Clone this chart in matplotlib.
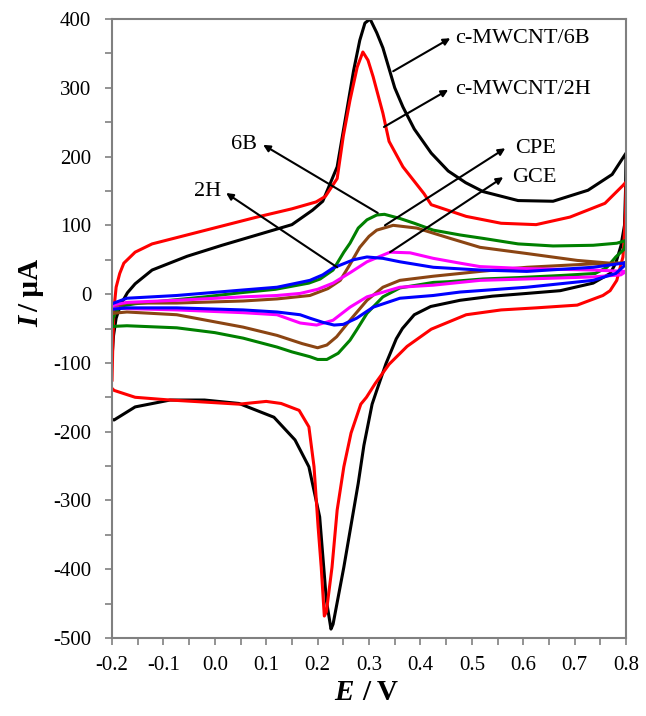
import matplotlib
matplotlib.use("Agg")
import matplotlib.pyplot as plt
from matplotlib.ticker import MultipleLocator, FormatStrFormatter

plt.rcParams['font.family'] = ['Liberation Serif', 'DejaVu Serif']
plt.rcParams['axes.unicode_minus'] = False

# ---- CV curves: one closed loop each (forward scan, then reverse scan) ----
# c-MWCNT/6B (black)
cnt6b_E = [-0.200, -0.197, -0.192, -0.183, -0.170, -0.155, -0.122, -0.054, 0.014, 0.082,
           0.150, 0.190, 0.210, 0.238, 0.257, 0.270, 0.282, 0.292, 0.302, 0.315,
           0.327, 0.350, 0.366, 0.388, 0.421, 0.454, 0.488, 0.522, 0.590, 0.658,
           0.726, 0.773, 0.800,
           0.799, 0.797, 0.790, 0.780, 0.769, 0.736, 0.672, 0.607, 0.540, 0.477,
           0.420, 0.388, 0.365, 0.353, 0.333, 0.315, 0.306, 0.290, 0.279, 0.251,
           0.230, 0.226, 0.217, 0.204, 0.183, 0.156, 0.115, 0.047, -0.020, -0.087,
           -0.155, -0.196, -0.200]
cnt6b_I = [-92, -60, -35, -15, 2, 15, 35, 55, 71, 86,
           101, 122, 135, 185, 268, 325, 369, 394, 400, 380,
           358, 300, 272, 240, 205, 179, 162, 149, 136, 135,
           151, 174, 205,
           150, 100, 70, 45, 30, 16, 5, 1, -3, -9,
           -18, -30, -50, -65, -101, -140, -160, -220, -275, -397,
           -480, -487, -445, -324, -251, -212, -179, -159, -154, -154,
           -164, -183, -182]

# c-MWCNT/2H (red)
cnt2h_E = [-0.200, -0.198, -0.196, -0.192, -0.185, -0.177, -0.155, -0.122, -0.054, 0.014,
           0.082, 0.150, 0.197, 0.215, 0.238, 0.250, 0.263, 0.277, 0.288, 0.298,
           0.308, 0.327, 0.339, 0.366, 0.407, 0.421, 0.489, 0.557, 0.625, 0.691,
           0.759, 0.794, 0.800,
           0.799, 0.797, 0.794, 0.782, 0.769, 0.755, 0.705, 0.625, 0.557, 0.489,
           0.421, 0.374, 0.339, 0.312, 0.295, 0.284, 0.265, 0.251, 0.238, 0.228,
           0.217, 0.213, 0.207, 0.201, 0.193, 0.183, 0.164, 0.129, 0.100, 0.047,
           -0.019, -0.087, -0.155, -0.196, -0.200]
cnt2h_I = [-125, -60, -20, 10, 30, 45, 61, 73, 86, 99,
           112, 124, 134, 142, 168, 230, 282, 330, 352, 340,
           316, 263, 222, 185, 146, 130, 113, 103, 101, 112,
           132, 158, 163,
           120, 90, 54, 20, 5, -2, -16, -20, -23, -30,
           -51, -76, -102, -130, -150, -160, -202, -251, -314, -397,
           -462, -468, -397, -339, -251, -193, -169, -159, -156, -160,
           -157, -154, -150, -140, -137]

# 6B (green)
b6_E = [-0.200, -0.198, -0.192, -0.180, -0.155, -0.087, -0.019, 0.050, 0.118, 0.183,
        0.205, 0.230, 0.251, 0.263, 0.279, 0.296, 0.315, 0.330, 0.360, 0.388,
        0.425, 0.477, 0.522, 0.590, 0.658, 0.736, 0.782, 0.800,
        0.796, 0.780, 0.763, 0.740, 0.672, 0.590, 0.522, 0.454, 0.425, 0.360,
        0.327, 0.296, 0.276, 0.263, 0.240, 0.218, 0.200, 0.185, 0.150, 0.121,
        0.055, 0.000, -0.074, -0.171, -0.200]
b6_I = [-47, -35, -25, -17, -14, -9, -4, 2, 7, 16,
        22, 35, 61, 74, 96, 108, 115, 116, 110, 103,
        93, 86, 81, 73, 70, 71, 74, 78,
        65, 54, 39, 30, 27, 24, 22, 18, 17, 9,
        -4, -28, -52, -67, -86, -95, -95, -91, -84, -77,
        -64, -56, -49, -46, -47]

# CPE (brown)
cpe_E = [-0.200, -0.197, -0.171, -0.074, 0.055, 0.121, 0.185, 0.220, 0.244, 0.262,
         0.282, 0.300, 0.315, 0.347, 0.393, 0.458, 0.516, 0.607, 0.705, 0.769, 0.800,
         0.736, 0.607, 0.516, 0.477, 0.425, 0.360, 0.327, 0.296, 0.263, 0.237,
         0.218, 0.200, 0.170, 0.121, 0.055, -0.074, -0.171, -0.200]
cpe_I = [-28, -18, -13, -13, -10, -7, -2, 8, 20, 42,
         68, 84, 93, 100, 96, 81, 68, 59, 49, 45, 45,
         44, 39, 33, 30, 26, 20, 10, -9, -38, -62,
         -74, -78, -72, -60, -48, -30, -26, -28]

# GCE (magenta)
gce_E = [-0.200, -0.171, -0.074, 0.055, 0.121, 0.166, 0.200, 0.230, 0.265, 0.296,
         0.341, 0.380, 0.425, 0.477, 0.516, 0.607, 0.736, 0.800,
         0.790, 0.736, 0.607, 0.516, 0.425, 0.360, 0.296, 0.263, 0.230, 0.198,
         0.166, 0.121, 0.055, -0.074, -0.171, -0.200]
gce_I = [-16, -12, -9, -4, -2, 1, 7, 16, 32, 47,
         61, 60, 52, 45, 40, 37, 35, 33,
         28, 25, 22, 20, 13, 10, -4, -19, -38, -45,
         -42, -30, -27, -23, -21, -20]

# 2H (blue)
h2_E = [-0.200, -0.171, -0.074, 0.055, 0.121, 0.166, 0.185, 0.210, 0.230, 0.270,
        0.296, 0.327, 0.360, 0.425, 0.516, 0.607, 0.736, 0.794, 0.800,
        0.795, 0.780, 0.736, 0.607, 0.477, 0.425, 0.360, 0.308, 0.276, 0.250,
        0.232, 0.210, 0.185, 0.166, 0.121, 0.055, -0.074, -0.171, -0.200]
h2_I = [-14, -6, -2, 6, 10, 17, 20, 28, 38, 50,
        54, 52, 47, 39, 35, 33, 39, 45, 46,
        40, 30, 20, 10, 3, -2, -6, -19, -35, -44,
        -45, -41, -35, -30, -26, -23, -20, -20, -22]

# labels: (text, arrow start on curve, arrow head next to label, text anchor)
labels = ['c-MWCNT/6B', 'c-MWCNT/2H', '6B', '2H', 'CPE', 'GCE']
arrow_from = [(0.347, 324), (0.329, 243), (0.317, 118), (0.238, 39), (0.331, 100), (0.341, 61)]
arrow_to = [(0.458, 372), (0.454, 297), (0.094, 217), (0.022, 147), (0.565, 212), (0.561, 170)]
text_at = [(0.468, 372), (0.468, 297), (0.082, 217), (0.012, 149), (0.584, 212), (0.578, 169)]
text_ha = ['left', 'left', 'right', 'right', 'left', 'left']

fig = plt.figure(figsize=(6.46, 7.16), dpi=100)
ax = fig.add_axes([0.1734, 0.1089, 0.7957, 0.8646])

curves = [(cnt6b_E, cnt6b_I, 'black'),
          (cnt2h_E, cnt2h_I, '#FF0000'),
          (b6_E, b6_I, '#008000'),
          (cpe_E, cpe_I, '#8B4513'),
          (gce_E, gce_I, '#FF00FF'),
          (h2_E, h2_I, '#0000FF')]
for E, I, c in curves:
    ax.plot(E, I, color=c, lw=2.2, solid_joinstyle='round')

for lab, p0, p1, pt, ha in zip(labels, arrow_from, arrow_to, text_at, text_ha):
    ax.annotate('', xy=p1, xytext=p0,
                arrowprops=dict(arrowstyle='-|>', color='black', lw=1.5,
                                mutation_scale=10, shrinkA=0, shrinkB=0))
    ax.text(pt[0], pt[1], lab, ha=ha, va='center', fontsize=16)

ax.set_xlim(-0.2, 0.8)
ax.set_ylim(-500, 400)
ax.xaxis.set_major_locator(MultipleLocator(0.1))
ax.xaxis.set_minor_locator(MultipleLocator(0.05))
ax.yaxis.set_major_locator(MultipleLocator(100))
ax.yaxis.set_minor_locator(MultipleLocator(50))
ax.xaxis.set_major_formatter(FormatStrFormatter('%.1f'))

for s in ax.spines.values():
    s.set_color('#808080')
    s.set_linewidth(1.5)
ax.tick_params(which='both', direction='out', length=5, width=1.2,
               color='#808080', labelsize=15, labelcolor='black')
ax.tick_params(axis='x', pad=8)
ax.tick_params(axis='y', pad=10)

# axis titles: italic-bold symbol + bold unit
fig.text(354 / 646, 1 - 693 / 716, 'E', fontsize=21, fontweight='bold',
         fontstyle='italic', ha='right', va='center')
fig.text(362 / 646, 1 - 693 / 716, '/ V', fontsize=21, fontweight='bold',
         ha='left', va='center')
fig.text(31 / 646, 1 - 316 / 716, 'I', fontsize=21, fontweight='bold',
         fontstyle='italic', rotation=90, ha='center', va='top')
fig.text(31 / 646, 1 - 312 / 716, '/ µA', fontsize=21, fontweight='bold',
         rotation=90, ha='center', va='bottom')

fig.savefig('out.png', dpi=100)
